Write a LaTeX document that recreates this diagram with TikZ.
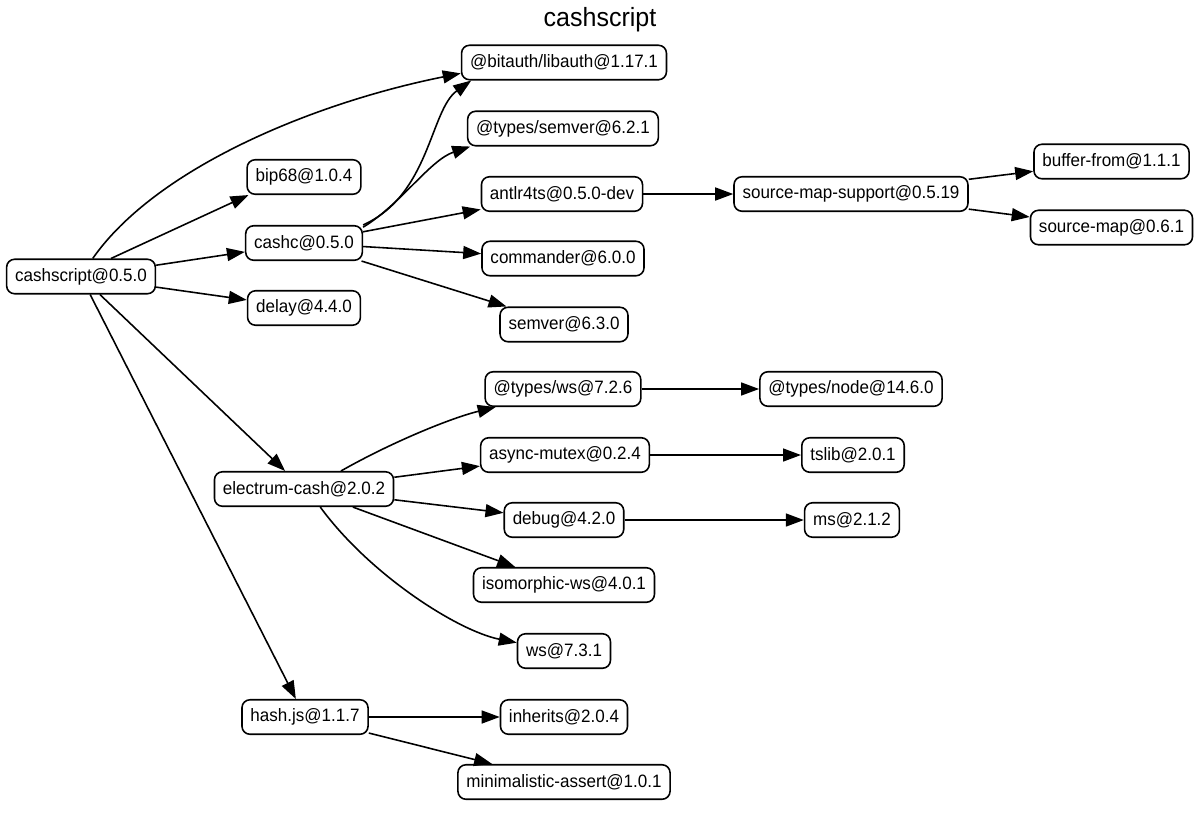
\documentclass[tikz,border=0pt]{standalone}
\usepackage{fontspec}
\setmainfont{Liberation Sans}[FakeStretch=0.95]
\usetikzlibrary{arrows.meta}

\begin{document}
\begin{tikzpicture}[x=0.02cm, y=-0.02cm,
		pkg/.style={draw, line width=0.9pt, rounded corners=0.16cm, fill=white,
			minimum height=0.69cm, inner xsep=0.17cm, inner ysep=0pt, font=\fontsize{10.2}{12}\selectfont},
		dep/.style={line width=0.9pt, -{Triangle[length=0.36cm, width=0.26cm]}}]
			%%%%% START %%%%%
			
			\useasboundingbox (0, 0) rectangle (1200, 819);
			\node[font=\fontsize{15}{17}\selectfont] (title) at (600, 20) {cashscript};
			
			\node[pkg] (cashscript) at (81, 276.5) {cashscript@0.5.0};
			
			\node[pkg] (bitauth) at (564, 62.5) {@bitauth/libauth@1.17.1};
			\node[pkg] (typessemver) at (563, 128.5) {@types/semver@6.2.1};
			\node[pkg] (bip68) at (304, 177) {bip68@1.0.4};
			\node[pkg] (cashc) at (304, 243) {cashc@0.5.0};
			\node[pkg] (delay) at (304, 308) {delay@4.4.0};
			\node[pkg] (antlr4ts) at (562, 194) {antlr4ts@0.5.0-dev};
			\node[pkg] (commander) at (563, 258.5) {commander@6.0.0};
			\node[pkg] (semver) at (564, 324.5) {semver@6.3.0};
			\node[pkg] (smsupport) at (851, 194) {source-map-support@0.5.19};
			\node[pkg] (bufferfrom) at (1111.5, 161.5) {buffer-from@1.1.1};
			\node[pkg] (sourcemap) at (1111.5, 227.5) {source-map@0.6.1};
			
			\node[pkg] (electrum) at (304, 489) {electrum-cash@2.0.2};
			\node[pkg] (typesws) at (563, 389) {@types/ws@7.2.6};
			\node[pkg] (typesnode) at (851, 389) {@types/node@14.6.0};
			\node[pkg] (asyncmutex) at (565, 455) {async-mutex@0.2.4};
			\node[pkg] (tslib) at (853, 455) {tslib@2.0.1};
			\node[pkg] (debug) at (564, 520) {debug@4.2.0};
			\node[pkg] (ms) at (852, 520) {ms@2.1.2};
			\node[pkg] (isows) at (564, 585) {isomorphic-ws@4.0.1};
			\node[pkg] (ws) at (564, 651) {ws@7.3.1};
			
			\node[pkg] (hashjs) at (305, 717) {hash.js@1.1.7};
			\node[pkg] (inherits) at (564, 717) {inherits@2.0.4};
			\node[pkg] (minassert) at (564, 782) {minimalistic-assert@1.0.1};
			
			% cashscript
			\draw[dep] (cashscript.57) .. controls (156, 168) and (313, 103) .. (bitauth.186);
			\draw[dep] (cashscript.31) -- (bip68.198);
			\draw[dep] (cashscript) -- (cashc);
			\draw[dep] (cashscript) -- (delay);
			\draw[dep] (cashscript) -- (electrum);
			\draw[dep] (cashscript) -- (hashjs);
			
			% cashc
			\draw[dep] (cashc.north east) .. controls (430, 195) and (430, 110) .. (bitauth.191);
			\draw[dep] (cashc.15) .. controls (400, 205) and (430, 160) .. (typessemver.191);
			\draw[dep] (cashc) -- (antlr4ts);
			\draw[dep] (cashc) -- (commander);
			\draw[dep] (cashc) -- (semver);
			\draw[dep] (antlr4ts) -- (smsupport);
			\draw[dep] (smsupport) -- (bufferfrom);
			\draw[dep] (smsupport) -- (sourcemap);
			
			% electrum-cash
			\draw[dep] (electrum.26) .. controls (392, 442) and (451, 418) .. (typesws.195);
			\draw[dep] (electrum) -- (asyncmutex);
			\draw[dep] (electrum) -- (debug);
			\draw[dep] (electrum) -- (isows);
			\draw[dep] (electrum.312) .. controls (370, 575) and (458, 631) .. (ws.170);
			\draw[dep] (typesws) -- (typesnode);
			\draw[dep] (asyncmutex) -- (tslib);
			\draw[dep] (debug) -- (ms);
			
			% hash.js
			\draw[dep] (hashjs) -- (inherits);
			\draw[dep] (hashjs) -- (minassert);
			
			%%%%% END %%%%%
\end{tikzpicture}
\end{document}
